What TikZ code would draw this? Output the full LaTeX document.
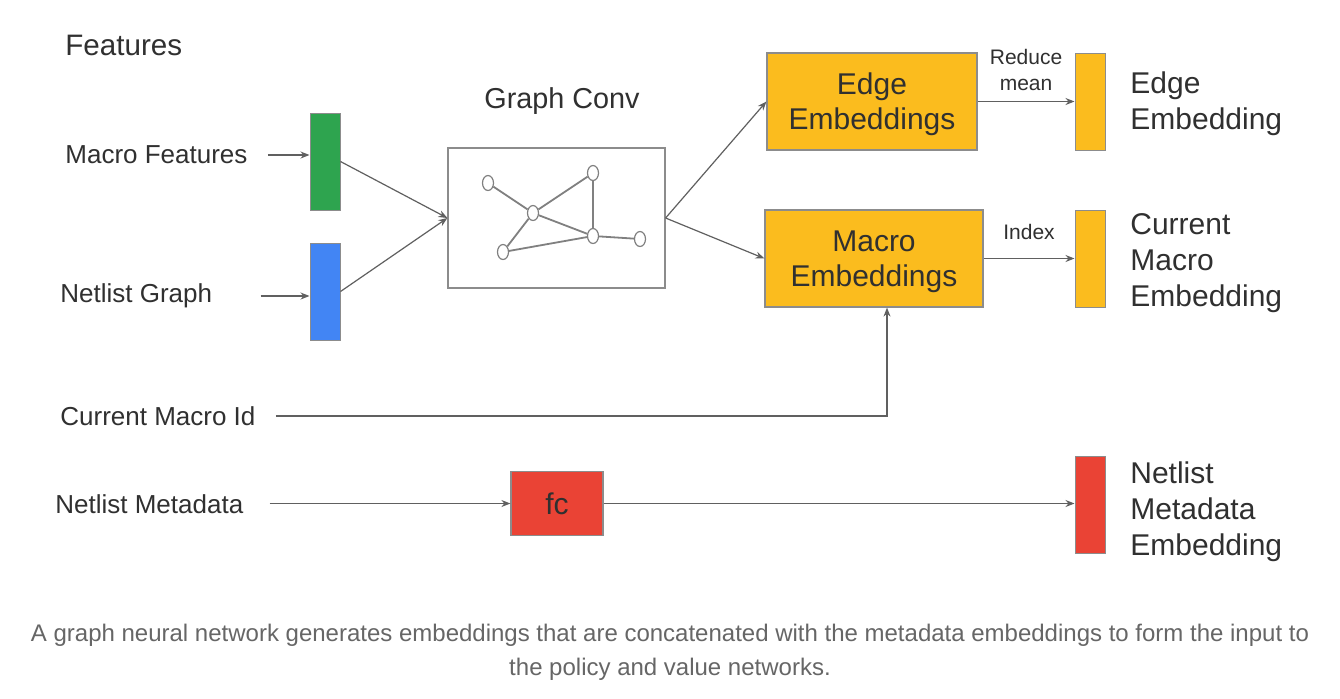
\documentclass[tikz,border=0pt]{standalone}
\usepackage{fontspec}
\setmainfont{Liberation Sans}
\usepackage{xcolor}
\usetikzlibrary{shapes,arrows,positioning,calc,arrows.meta}

\definecolor{gGreen}{HTML}{2EA44F}
\definecolor{gBlue}{HTML}{4285F4}
\definecolor{gYellow}{HTML}{FBBC1E}
\definecolor{gRed}{HTML}{EA4335}
\definecolor{txt}{HTML}{303030}
\definecolor{wire}{HTML}{606060}

\begin{document}
\begin{tikzpicture}[
        x=0.5pt, y=-0.5pt,
        bar/.style={
            rectangle, draw=black!45, line width=0.5pt,
            minimum width=15pt, minimum height=48.5pt, inner sep=0pt
          },
        block/.style={
            rectangle, draw=black!45, line width=0.6pt, fill=gYellow,
            minimum height=48.5pt, font=\fontsize{15}{17.5}\selectfont,
            text=txt, align=center, inner sep=2pt, text depth=0pt
          },
        inlabel/.style={font=\fontsize{13}{15}\selectfont, text=txt, anchor=west, inner sep=0pt},
        outlabel/.style={font=\fontsize{15}{18}\selectfont, text=txt, anchor=west, align=left, inner sep=0pt},
        small/.style={font=\fontsize{10.5}{13}\selectfont, text=txt, align=center, inner sep=0pt},
        gnode/.style={ellipse, draw=black!50, line width=0.6pt, fill=white,
            minimum width=5.5pt, minimum height=7.5pt, inner sep=0pt},
        arr/.style={-{Stealth[length=4.5pt,width=3.5pt]}, draw=wire, line width=0.6pt},
        edge/.style={draw=black!50, line width=0.9pt},
      ]
      \useasboundingbox [fill=white] (0,0) rectangle (1340,698);

      % Titles
      \node [font=\fontsize{14.8}{17}\selectfont, text=txt, anchor=west, inner sep=0pt] (feat) at (65,45) {Features};
      \node [font=\fontsize{14.4}{17}\selectfont, text=txt, inner sep=0pt] (gctitle) at (562,101) {Graph Conv};

      % Input labels
      \node [inlabel] (mfeat) at (65,155) {Macro Features};
      \node [inlabel] (ngraph) at (60,296) {Netlist Graph};
      \node [inlabel] (cmid) at (60,416) {Current Macro Id};
      \node [inlabel] (nmeta) at (55,504) {Netlist Metadata};

      % Feature bars
      \node [bar, fill=gGreen] (green) at (325,161.5) {};
      \node [bar, fill=gBlue] (blue) at (325,291.5) {};

      % Graph conv box
      \node [rectangle, draw=black!45, line width=0.6pt, minimum width=108.5pt, minimum height=70pt] (gconv) at (556.5,218) {};
      \node [gnode] (g1) at (488,183) {};
      \node [gnode] (g2) at (533,213) {};
      \node [gnode] (g3) at (593,173) {};
      \node [gnode] (g4) at (593,236) {};
      \node [gnode] (g5) at (640,239) {};
      \node [gnode] (g6) at (503,252) {};
      \foreach \a/\b in {g1/g2, g2/g3, g3/g4, g2/g4, g2/g6, g6/g4, g4/g5}
        \draw [edge] (\a) -- (\b);

      % Embedding blocks
      \node [block, minimum width=105pt] (edgeemb) at (872,101.5) {Edge\\Embeddings};
      \node [block, minimum width=109pt] (macroemb) at (874,258.5) {Macro\\Embeddings};
      \node [rectangle, draw=black!45, line width=0.6pt, fill=gRed, minimum width=46pt, minimum height=32pt,
             font=\fontsize{15}{17}\selectfont, text=txt] (fc) at (557,503.5) {fc};

      % Output bars
      \node [bar, fill=gYellow] (edgeout) at (1090,101.5) {};
      \node [bar, fill=gYellow] (macroout) at (1090,258.5) {};
      \node [bar, fill=gRed] (metaout) at (1090,504.5) {};

      % Output labels
      \node [outlabel] (edgelbl) at (1130,104) {Edge\\Embedding};
      \node [outlabel] (macrolbl) at (1130,263) {Current\\Macro\\Embedding};
      \node [outlabel] (metalbl) at (1130,512) {Netlist\\Metadata\\Embedding};

      % Connections
      \draw [arr] ([xshift=10pt]mfeat.east) -- (green.west |- mfeat.east);
      \draw [arr] ([xshift=24pt]ngraph.east) -- (blue.west |- ngraph.east);
      \draw [arr] (green.east) -- (gconv.west);
      \draw [arr] (blue.east) -- (gconv.west);
      \draw [arr] (gconv.east) -- (edgeemb.west);
      \draw [arr] (gconv.east) -- (macroemb.west);
      \draw [arr] (edgeemb.east) -- (edgeout.west) node [small, midway, above=5pt] {Reduce\\mean};
      \draw [arr] (macroemb.east) -- (macroout.west) node [small, midway, above=9pt] {Index};
      \draw [arr] ([xshift=10pt]cmid.east) -| ([xshift=6.5pt]macroemb.south);
      \draw [arr] ([xshift=13pt]nmeta.east |- fc.west) -- (fc.west);
      \draw [arr] (fc.east) -- (metaout.west |- fc.east);

      % Caption
      \node [font=\fontsize{12}{17}\selectfont, text=black!60, align=center] (caption) at (670,652)
        {A graph neural network generates embeddings that are concatenated with the metadata embeddings to form the input to\\the policy and value networks.};
    \end{tikzpicture}
\end{document}
